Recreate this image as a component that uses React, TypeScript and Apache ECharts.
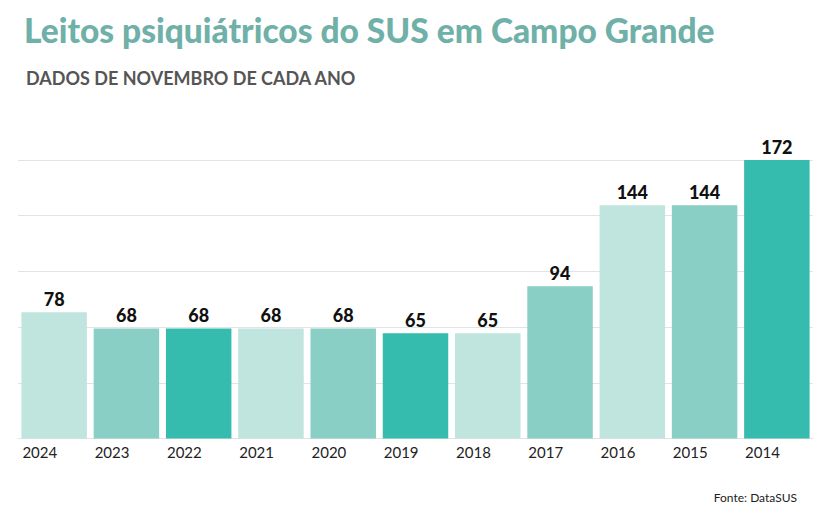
import React, { useEffect, useRef } from "react";
import * as echarts from "echarts";

const categories = ["2024", "2023", "2022", "2021", "2020", "2019", "2018", "2017", "2016", "2015", "2014"];
const values = [78, 68, 68, 68, 68, 65, 65, 94, 144, 144, 172];
const barColors = ["#c0e4de", "#89cfc6", "#35bcae", "#c0e4de", "#89cfc6", "#35bcae", "#c0e4de", "#89cfc6", "#c0e4de", "#89cfc6", "#35bcae"];
const titleText = "Leitos psiquiátricos do SUS em Campo Grande";
const subtitleText = "DADOS DE NOVEMBRO DE CADA ANO";
const sourceText = "Fonte: DataSUS";

export default function App() {
  const ref = useRef<HTMLDivElement>(null);
  useEffect(() => {
    document.body.style.margin = "0";
    const chart = echarts.init(ref.current!, null, { renderer: "svg" });
    chart.setOption({
      animation: false,
      backgroundColor: "#ffffff",
      title: [
        {
          text: titleText,
          left: 19,
          top: 8,
          textStyle: { fontFamily: "Lato", fontWeight: 900, fontSize: 33.5, color: "#6fb0a8" },
        },
        {
          text: subtitleText,
          left: 21,
          top: 64,
          textStyle: { fontFamily: "Lato", fontWeight: "bold", fontSize: 18, color: "#555555" },
        },
        {
          text: sourceText,
          right: 26,
          top: 486,
          textStyle: { fontFamily: "Lato", fontWeight: "normal", fontSize: 12, color: "#222222" },
        },
      ],
      grid: { left: 18, right: 15, top: 160, bottom: 66.5 },
      xAxis: {
        type: "category",
        data: categories,
        axisLine: { show: true, lineStyle: { color: "#e3e3e3", width: 1 } },
        axisTick: { show: false },
        axisLabel: { show: false },
      },
      yAxis: {
        type: "value",
        min: 0,
        max: 172,
        interval: 34.4,
        axisLabel: { show: false },
        axisLine: { show: false },
        axisTick: { show: false },
        splitLine: { lineStyle: { color: "#e3e3e3", width: 1 } },
      },
      series: [
        {
          type: "bar",
          barCategoryGap: "9.4%",
          data: values.map((v, i) => ({ value: v, itemStyle: { color: barColors[i] } })),
          label: {
            show: true,
            position: "top",
            distance: 4,
            fontFamily: "Lato",
            fontWeight: 900,
            fontSize: 18,
            color: "#111111",
          },
        },
        {
          type: "bar",
          barGap: "-100%",
          barCategoryGap: "9.4%",
          data: values.map((v) => ({ value: v, itemStyle: { color: "rgba(0,0,0,0)" } })),
          silent: true,
          label: {
            show: true,
            position: "insideBottomLeft",
            distance: 0,
            offset: [1, 21],
            formatter: (p: any) => categories[p.dataIndex],
            fontFamily: "Lato",
            fontWeight: "normal",
            fontSize: 15,
            color: "#222222",
          },
        },
      ],
    });
    return () => chart.dispose();
  }, []);
  return <div ref={ref} style={{ width: 828, height: 505 }} />;
}
